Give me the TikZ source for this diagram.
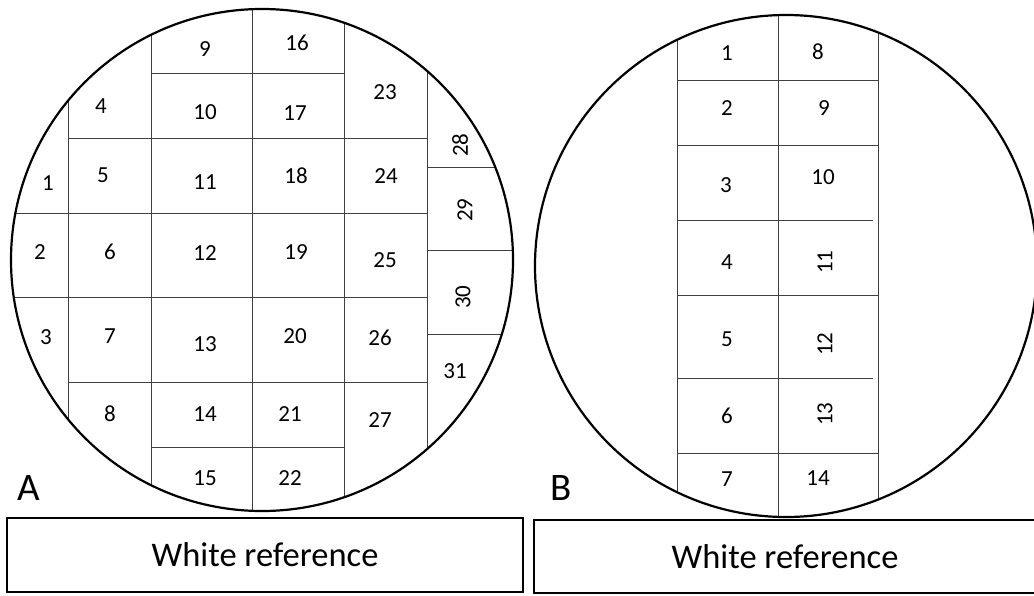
\documentclass[tikz,border=0pt]{standalone}
\usepackage{fontspec}
\setmainfont{Carlito}
\usepackage{tikz}

\begin{document}
\begin{tikzpicture}[x=1pt, y=-1pt,
  rim/.style={line width=2.2pt},
  cut/.style={line width=0.9pt, black!75},
  num/.style={inner sep=0pt, font=\fontsize{23}{27}\selectfont},
  tag/.style={inner sep=0pt, font=\fontsize{39}{45}\selectfont},
  refbox/.style={draw, line width=1.6pt, inner sep=0pt, font=\fontsize{34.5}{40}\selectfont}]
  \useasboundingbox (0,0) rectangle (1034,595);

  % wafer A
  \begin{scope}
    \clip (262,260) circle (251);
    \foreach \x in {68,151,252,344,427} \draw[cut] (\x,0) -- (\x,520);
    \foreach \y in {167,250,334} \draw[cut] (427,\y) -- (520,\y);
    \foreach \y in {213,297} \draw[cut] (0,\y) -- (427,\y);
  \end{scope}
  \draw[cut] (151,73) -- (344,73);
  \draw[cut] (68,138) -- (427,138);
  \draw[cut] (68,382) -- (427,382);
  \draw[cut] (151,447) -- (344,447);
  \draw[rim] (262,260) circle (251);
  \foreach \n/\x/\y in {1/48/183, 2/40/252, 3/46/337, 4/101/106, 5/103/175,
      6/110/252, 7/110/336, 8/110/414, 9/205/49, 10/205/112, 11/205/182,
      12/205/253, 13/205/344, 14/205/414, 15/205/478, 16/297/43, 17/295/113,
      18/296/176, 19/296/252, 20/295/336, 21/290/414, 22/290/478, 23/385/92,
      24/386/176, 25/385/260, 26/380/338, 27/380/420, 31/455/371}
    \node[num] (a\n) at (\x,\y) {\n};
  \foreach \n/\x/\y in {28/460/145, 29/465/210, 30/463/297}
    \node[num, rotate=90] (a\n) at (\x,\y) {\n};
  \node[tag] (labA) at (29,488) {A};
  \node[refbox, minimum width=516pt, minimum height=74pt] (refA) at (265,555) {White reference};

  % wafer B
  \begin{scope}
    \clip (786,266) circle (251);
    \foreach \x in {677,778,878} \draw[cut] (\x,0) -- (\x,530);
  \end{scope}
  \foreach \y in {80,145,295,453} \draw[cut] (677,\y) -- (878,\y);
  \foreach \y in {220,378} \draw[cut] (677,\y) -- (873,\y);
  \draw[rim] (786,266) circle (251);
  \foreach \n/\x/\y in {1/727/53, 2/727/108, 3/726/185, 4/727/262, 5/727/339,
      6/727/416, 7/727/479, 8/818/52, 9/824/108, 10/823/177, 14/818/478}
    \node[num] (b\n) at (\x,\y) {\n};
  \foreach \n/\x/\y in {11/825/262, 12/825/344, 13/825/414}
    \node[num, rotate=90] (b\n) at (\x,\y) {\n};
  \node[tag] (labB) at (561,488) {B};
  \node[refbox, minimum width=502pt, minimum height=73pt] (refB) at (785,556.5) {White reference};
\end{tikzpicture}
\end{document}
